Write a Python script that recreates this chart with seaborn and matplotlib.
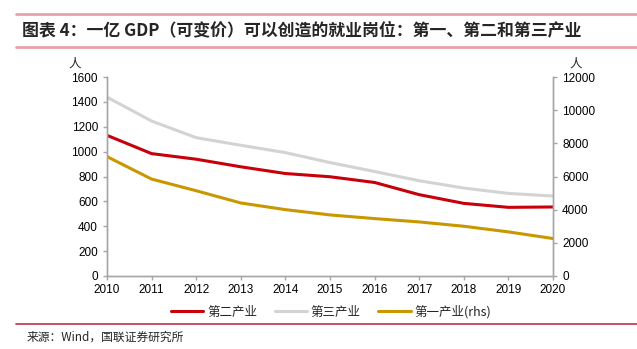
import matplotlib
matplotlib.use("Agg")
import matplotlib.pyplot as plt
import seaborn as sns
import pandas as pd
from matplotlib.lines import Line2D

years = [2010, 2011, 2012, 2013, 2014, 2015, 2016, 2017, 2018, 2019, 2020]
secondary = [1131, 984, 939, 878, 824, 798, 752, 654, 584, 552, 555]
tertiary = [1438, 1246, 1112, 1051, 992, 912, 840, 766, 707, 664, 643]
primary_rhs = [7200, 5845, 5142, 4404, 4002, 3684, 3462, 3260, 3000, 2660, 2260]

labels = ["第二产业", "第三产业", "第一产业(rhs)"]
colors = ["#C8000A", "#D3D3D3", "#C99700"]
left_ticks = [0, 200, 400, 600, 800, 1000, 1200, 1400, 1600]
right_ticks = [0, 2000, 4000, 6000, 8000, 10000, 12000]

sns.set_theme(style="white")
plt.rcParams["font.family"] = ["Noto Sans CJK SC", "DejaVu Sans"]

df = pd.DataFrame({"year": years, "sec": secondary, "ter": tertiary, "pri": primary_rhs})

fig = plt.figure(figsize=(6.37, 3.49), dpi=100)
ax = fig.add_axes([107/637, 1 - 276/349, (553-107)/637, (276-77)/349])
ax2 = ax.twinx()

sns.lineplot(data=df, x="year", y="sec", ax=ax, color=colors[0], lw=2.2)
sns.lineplot(data=df, x="year", y="ter", ax=ax, color=colors[1], lw=2.2)
sns.lineplot(data=df, x="year", y="pri", ax=ax2, color=colors[2], lw=2.2)

ax.set_xlim(2010, 2020)
ax.set_ylim(0, 1600)
ax2.set_ylim(0, 12000)
ax.set_xticks(years)
ax.set_yticks(left_ticks)
ax2.set_yticks(right_ticks)
ax.set_xlabel("")
ax.set_ylabel("")
ax2.set_ylabel("")

spine_c = "#A6A6A6"
for a in (ax, ax2):
    a.spines["top"].set_visible(False)
    for s in ("left", "right", "bottom"):
        a.spines[s].set_color(spine_c)
        a.spines[s].set_linewidth(1.0)
    a.tick_params(colors=spine_c, labelcolor="black", labelsize=8.5, length=3, width=1, direction="out")
    a.grid(False)
ax.tick_params(axis="x", pad=3)
ax.tick_params(axis="both", which="both", bottom=True, left=True)
ax2.tick_params(axis="y", right=True)
for t in ax.get_xticklabels() + ax.get_yticklabels() + ax2.get_yticklabels():
    t.set_family(["Liberation Sans", "DejaVu Sans"])

fig.text(75/637, 1 - 64/349, "人", fontsize=9, ha="center", va="center")
fig.text(576/637, 1 - 64/349, "人", fontsize=9, ha="center", va="center")

handles = [Line2D([0], [0], color=c, lw=2.2) for c in colors]
fig.legend(handles, labels, loc="center", bbox_to_anchor=(331/637, 1 - 312/349), ncol=3,
           frameon=False, fontsize=9, handlelength=2.6, columnspacing=1.4, handletextpad=0.3)

# title and rules
fig.add_artist(Line2D([16/637, 1], [1 - 14/349, 1 - 14/349], color="#E8A1B1", lw=2))
fig.add_artist(Line2D([16/637, 1], [1 - 46.5/349, 1 - 46.5/349], color="#E8A1B1", lw=2))
fig.text(22/637, 1 - 30/349, "图表 4：一亿 GDP（可变价）可以创造的就业岗位：第一、第二和第三产业",
         fontsize=12.2, fontweight="bold", fontstyle="italic", ha="left", va="center")
fig.add_artist(Line2D([16/637, 1], [1 - 324/349, 1 - 324/349], color="#C0304A", lw=1.2))
fig.text(27/637, 1 - 337/349, "来源：Wind，国联证券研究所", fontsize=8.5, ha="left", va="center")

fig.savefig("out.png", dpi=100)
